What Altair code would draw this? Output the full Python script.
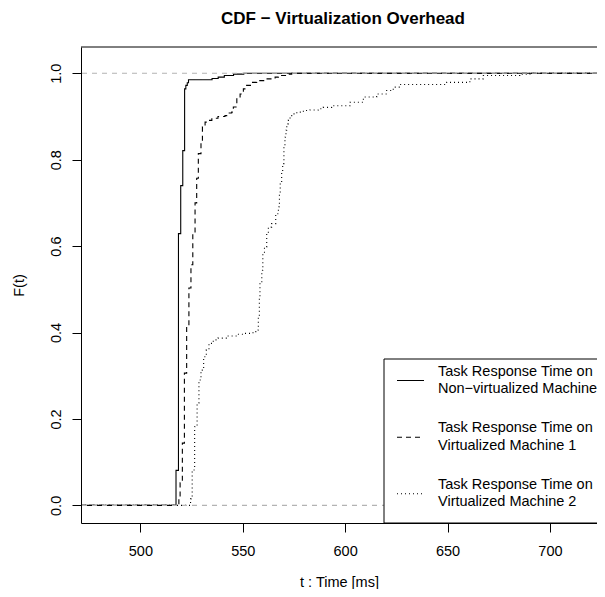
import altair as alt
import pandas as pd

# ---------------- data ----------------
series_names = ["Non-virtualized Machine", "Virtualized Machine 1", "Virtualized Machine 2"]

solid_t = [517.4, 518.6, 519.7, 520.7, 521.6, 522.2, 522.9, 523.5, 535.0, 538.0, 541.0, 545.5, 550.5]
solid_F = [0.081, 0.629, 0.740, 0.821, 0.964, 0.972, 0.978, 0.985, 0.988, 0.991, 0.995, 0.998, 1.0]

dashed_t = [518.8, 519.4, 520.5, 521.5, 522.6, 523.7, 524.7, 525.6, 526.7, 527.5,
            528.3, 529.6, 530.3, 531.6, 533.2, 534.9, 537.9, 541.3, 542.8, 544.6,
            545.4, 547.1, 548.7, 550.3, 551.9, 554.4, 556.8, 560.9, 565.8, 567.4,
            572.2, 573.9]
dashed_F = [0.02, 0.052, 0.144, 0.306, 0.415, 0.503, 0.557, 0.629, 0.70, 0.757,
            0.814, 0.838, 0.876, 0.887, 0.891, 0.896, 0.900, 0.902, 0.908, 0.910,
            0.922, 0.941, 0.952, 0.964, 0.972, 0.979, 0.983, 0.987, 0.991, 0.995,
            0.998, 1.0]

dotted_t = [524.5, 525.3, 526.5, 527.7, 528.6, 529.6, 530.9, 532.2, 533.5, 535.6,
            537.9, 542.2, 547.1, 551.1, 555.0, 556.8, 557.6, 558.1, 558.4, 559.3,
            559.8, 560.6, 561.7, 562.5, 564.1, 566.1, 567.4, 567.9, 568.3, 569.0,
            569.5, 570.1, 570.6, 571.1, 571.5, 572.2, 573.1, 574.7, 576.4, 579.6,
            582.8, 586.9, 589.3, 593.4, 602.4, 608.9, 615.4, 620.3, 623.5, 626.8,
            649.6, 660.9, 667.4, 685.4, 690.2]
dotted_F = [0.015, 0.082, 0.182, 0.237, 0.29, 0.313, 0.344, 0.36, 0.375, 0.383,
            0.387, 0.392, 0.396, 0.398, 0.402, 0.406, 0.437, 0.479, 0.514, 0.544,
            0.583, 0.598, 0.629, 0.644, 0.652, 0.675, 0.691, 0.721, 0.745, 0.775,
            0.791, 0.829, 0.852, 0.868, 0.883, 0.891, 0.902, 0.906, 0.910, 0.914,
            0.915, 0.918, 0.921, 0.925, 0.933, 0.945, 0.952, 0.960, 0.968, 0.974,
            0.979, 0.987, 0.995, 0.998, 1.0]

legend_labels = [
    "Task Response Time on\nNon\u2212virtualized Machine",
    "Task Response Time on\nVirtualized Machine 1",
    "Task Response Time on\nVirtualized Machine 2",
]

x_ticks = [500, 550, 600, 650, 700]
y_ticks = [0.0, 0.2, 0.4, 0.6, 0.8, 1.0]

# ---------------- layout / style ----------------
X_MIN, X_MAX = 471.0, 723.0
Y_MIN, Y_MAX = -0.0408, 1.0608
W, H = 516, 476
FONT = "Liberation Sans"
dashes = [[1, 0], [5, 4], [1, 3]]

rows = []
for name, ts, fs in zip(series_names, [solid_t, dashed_t, dotted_t], [solid_F, dashed_F, dotted_F]):
    rows.append({"series": name, "t": X_MIN, "F": 0.0, "o": 0})
    for i, (t, f) in enumerate(zip(ts, fs)):
        rows.append({"series": name, "t": t, "F": f, "o": i + 1})
    rows.append({"series": name, "t": X_MAX, "F": 1.0, "o": len(ts) + 1})
df = pd.DataFrame(rows)

x_scale = alt.Scale(domain=[X_MIN, X_MAX], nice=False, zero=False)
y_scale = alt.Scale(domain=[Y_MIN, Y_MAX], nice=False, zero=False)

lines = alt.Chart(df).mark_line(
    interpolate="step-after", color="black", strokeWidth=1.1, clip=True
).encode(
    x=alt.X("t:Q", scale=x_scale,
            axis=alt.Axis(values=x_ticks, title="t : Time [ms]", format="d",
                          tickSize=9, labelPadding=12, titlePadding=18)),
    y=alt.Y("F:Q", scale=y_scale,
            axis=alt.Axis(values=y_ticks, title="F(t)", format=".1f",
                          tickSize=9, labelAngle=270, labelAlign="center",
                          labelBaseline="bottom", labelPadding=9, titlePadding=22)),
    strokeDash=alt.StrokeDash("series:N", scale=alt.Scale(domain=series_names, range=dashes),
                              legend=None),
    detail="series:N",
    order="o:Q",
)

ref = alt.Chart(pd.DataFrame({"F": [0.0, 1.0]})).mark_rule(
    color="#B3B3B3", strokeDash=[5, 5], strokeWidth=1.1
).encode(y=alt.Y("F:Q", scale=y_scale))

one = pd.DataFrame({"a": [0]})
top_rule = alt.Chart(one).mark_rule(color="black", strokeWidth=1).encode(
    x=alt.value(0), x2=alt.value(W + 10), y=alt.value(0)
)

# legend (bottom-right, like R's legend())
LX, LY = 303, 312
LINE_H = 17.6
leg_box = alt.Chart(one).mark_rect(fill="white", stroke="black", strokeWidth=1).encode(
    x=alt.value(LX), x2=alt.value(W + 20), y=alt.value(LY), y2=alt.value(H)
)
legend_layers = [leg_box]
row_y = [333.5, 390.2, 446.7]
for i, (lab, dsh) in enumerate(zip(legend_labels, dashes)):
    legend_layers.append(
        alt.Chart(one).mark_rule(color="black", strokeWidth=1.1, strokeDash=dsh).encode(
            x=alt.value(LX + 13), x2=alt.value(LX + 40), y=alt.value(row_y[i])
        )
    )
    legend_layers.append(
        alt.Chart(one).mark_text(
            align="left", baseline="middle", fontSize=14.5, font=FONT, color="black",
            lineBreak="\n", lineHeight=LINE_H
        ).encode(x=alt.value(LX + 54), y=alt.value(row_y[i] - LINE_H / 2), text=alt.value(lab))
    )

chart = alt.layer(lines, ref, top_rule, *legend_layers).properties(
    width=W, height=H,
    padding={"left": 73, "top": 39, "right": 0, "bottom": 66},
    autosize=alt.AutoSizeParams(type="none"),
    title=alt.Title("CDF \u2212 Virtualization Overhead", fontSize=17, fontWeight="bold",
                    font=FONT, frame="group", anchor="middle", baseline="alphabetic",
                    offset=6, dx=4, color="black"),
).configure_view(stroke=None).configure_axis(
    grid=False, domainColor="black", tickColor="black", labelColor="black",
    titleColor="black", labelFont=FONT, titleFont=FONT, labelFontSize=14.5,
    titleFontSize=14.5, titleFontWeight="normal", domainWidth=1, tickWidth=1,
)

chart.save("out.html", embed_options={"renderer": "svg", "actions": False})
